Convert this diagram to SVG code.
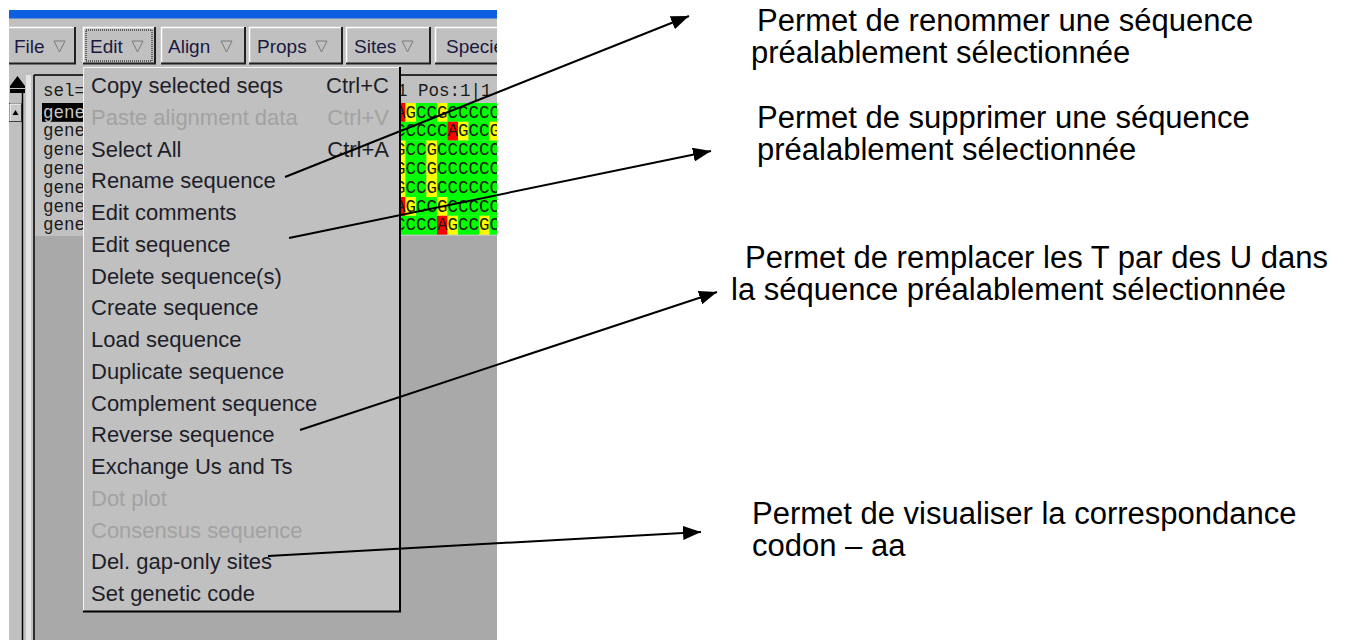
<svg xmlns="http://www.w3.org/2000/svg" width="1350" height="640" viewBox="0 0 1350 640">
<defs>
<style>
.menu{font-family:"Liberation Sans",Arial,sans-serif;font-size:22px;fill:#1e1e2a}
.dis{fill:#a2a2a2}
.btn{font-family:"Liberation Sans",Arial,sans-serif;font-size:19px;fill:#1a1a40}
.mono{font-family:"Liberation Mono","Courier New",monospace;font-size:17.5px;fill:#1a1a1a}
.note{font-family:"Liberation Sans",Arial,sans-serif;font-size:31px;fill:#000}
.g{fill:#00ff00}.y{fill:#ffff00}.r{fill:#ff0000}
.tri{fill:none;stroke:#7a7a7a;stroke-width:1}
.hl{stroke:#ffffff;stroke-width:1.5;fill:none}
.sh{stroke:#202020;stroke-width:2;fill:none}
.arrow{stroke:#000;stroke-width:2;fill:none;marker-end:url(#ah)}
</style>
<clipPath id="shot"><rect x="9" y="10" width="488" height="630"/></clipPath>
<marker id="ah" markerUnits="userSpaceOnUse" markerWidth="20" markerHeight="14" refX="18" refY="7" orient="auto">
<path d="M0,0 L18,7 L0,14 z" fill="#000"/>
</marker>
</defs>
<rect width="1350" height="640" fill="#fff"/>
<g id="screenshot" clip-path="url(#shot)">
<rect x="9" y="10" width="488" height="630" fill="#c0c0c0"/>
<rect x="9" y="10" width="488" height="8.5" fill="#0c5fe0"/>
<g id="btn-file">
<rect x="0" y="27" width="75" height="37" fill="#c0c0c0"/>
<polyline class="hl" points="0,27.5 74,27.5"/>
<polyline class="sh" points="0,63.5 75,63.5 75,27"/>
<text class="btn" x="14" y="53">File</text>
<polygon class="tri" points="54,41 65,41 59.5,52"/>
</g>
<g id="btn-edit">
<polyline class="hl" points="83.5,64 83.5,27.5 155,27.5"/>
<polyline class="sh" points="83,63.5 155,63.5 155,27"/>
<rect x="86" y="30" width="66" height="31" fill="none" stroke="#000" stroke-width="1" stroke-dasharray="1,1"/>
<text class="btn" x="90" y="53">Edit</text>
<polygon class="tri" points="132,41 143,41 137.5,52"/>
</g>
<g id="btn-align">
<polyline class="hl" points="161.5,64 161.5,27.5 245,27.5"/>
<polyline class="sh" points="161,63.5 245,63.5 245,27"/>
<text class="btn" x="168" y="53">Align</text>
<polygon class="tri" points="221,41 232,41 226.5,52"/>
</g>
<g id="btn-props">
<polyline class="hl" points="249.5,64 249.5,27.5 342,27.5"/>
<polyline class="sh" points="249,63.5 342,63.5 342,27"/>
<text class="btn" x="257" y="53">Props</text>
<polygon class="tri" points="316,41 327,41 321.5,52"/>
</g>
<g id="btn-sites">
<polyline class="hl" points="346.5,64 346.5,27.5 430,27.5"/>
<polyline class="sh" points="346,63.5 430,63.5 430,27"/>
<text class="btn" x="354" y="53">Sites</text>
<polygon class="tri" points="402,41 413,41 407.5,52"/>
</g>
<g id="btn-species">
<polyline class="hl" points="435.5,64 435.5,27.5 510,27.5"/>
<polyline class="sh" points="435,63.5 510,63.5"/>
<text class="btn" x="446" y="53">Species</text>
</g>
<g id="left-strip">
<polygon points="10,86 17.5,76 25,86" fill="#000"/>
<rect x="10" y="86" width="15" height="7" fill="#000"/>
<line x1="10" y1="88.5" x2="25" y2="88.5" stroke="#c0c0c0" stroke-width="1"/>
<rect x="9.5" y="103.5" width="12" height="18" fill="#c8c8c8" stroke="#404040" stroke-width="1"/>
<polyline points="10,121 10,104 21,104" stroke="#fff" stroke-width="1" fill="none"/>
<polygon points="12.5,115 15.5,110 18.5,115" fill="#000"/>
<line x1="22.5" y1="93" x2="22.5" y2="640" stroke="#000" stroke-width="1.5"/>
<rect x="26" y="75" width="5" height="565" fill="#e4e4e4"/>
</g>
<g id="panel">
<rect x="34" y="75" width="470" height="570" fill="#a9a9a9"/>
<rect x="35" y="76" width="470" height="160" fill="#c0c0c0"/>
<line x1="34" y1="75" x2="34" y2="640" stroke="#000" stroke-width="1.5"/>
<line x1="34" y1="75" x2="500" y2="75" stroke="#000" stroke-width="1.5"/>
<text class="mono" x="43" y="96">sel=1</text>
<text class="mono" x="397" y="96">1 Pos:1|1</text>
<rect x="42" y="103" width="42" height="18.8" fill="#000"/>
<text class="mono" x="43" y="117.5" style="fill:#c8c8c8">gene</text>
<text class="mono" x="43" y="136.3">gene</text>
<text class="mono" x="43" y="155.1">gene</text>
<text class="mono" x="43" y="173.9">gene</text>
<text class="mono" x="43" y="192.7">gene</text>
<text class="mono" x="43" y="211.5">gene</text>
<text class="mono" x="43" y="230.3">gene</text>
</g>
<g id="grid">
<rect class="r" x="395" y="103" width="10.5" height="18.8"/><rect class="y" x="405.5" y="103" width="10.5" height="18.8"/><rect class="g" x="416" y="103" width="21" height="18.8"/><rect class="y" x="437" y="103" width="10.5" height="18.8"/><rect class="g" x="447.5" y="103" width="60" height="18.8"/>
<rect class="g" x="395" y="121.8" width="52.5" height="18.8"/><rect class="r" x="447.5" y="121.8" width="10.5" height="18.8"/><rect class="y" x="458" y="121.8" width="10.5" height="18.8"/><rect class="g" x="468.5" y="121.8" width="21" height="18.8"/><rect class="y" x="489.5" y="121.8" width="10.5" height="18.8"/>
<rect class="y" x="395" y="140.6" width="10.5" height="56.4"/><rect class="g" x="405.5" y="140.6" width="21" height="56.4"/><rect class="y" x="426.5" y="140.6" width="10.5" height="56.4"/><rect class="g" x="437" y="140.6" width="70" height="56.4"/>
<rect class="r" x="395" y="197" width="10.5" height="18.8"/><rect class="y" x="405.5" y="197" width="10.5" height="18.8"/><rect class="g" x="416" y="197" width="21" height="18.8"/><rect class="y" x="437" y="197" width="10.5" height="18.8"/><rect class="g" x="447.5" y="197" width="60" height="18.8"/>
<rect class="g" x="395" y="215.8" width="42" height="18.8"/><rect class="r" x="437" y="215.8" width="10.5" height="18.8"/><rect class="y" x="447.5" y="215.8" width="10.5" height="18.8"/><rect class="g" x="458" y="215.8" width="21" height="18.8"/><rect class="y" x="479" y="215.8" width="10.5" height="18.8"/><rect class="g" x="489.5" y="215.8" width="12" height="18.8"/>
<text class="mono" x="395" y="117.5" textLength="105" lengthAdjust="spacing">AGCCGCCCCC</text>
<text class="mono" x="395" y="136.3" textLength="105" lengthAdjust="spacing">CCCCCAGCCG</text>
<text class="mono" x="395" y="155.1" textLength="105" lengthAdjust="spacing">GCCGCCCCCC</text>
<text class="mono" x="395" y="173.9" textLength="105" lengthAdjust="spacing">GCCGCCCCCC</text>
<text class="mono" x="395" y="192.7" textLength="105" lengthAdjust="spacing">GCCGCCCCCC</text>
<text class="mono" x="395" y="211.5" textLength="105" lengthAdjust="spacing">AGCCGCCCCC</text>
<text class="mono" x="395" y="230.3" textLength="105" lengthAdjust="spacing">CCCCAGCCGC</text>
</g>
<g id="edit-menu">
<rect x="83" y="67" width="317" height="545" fill="#c0c0c0"/>
<polyline points="83.5,612 83.5,67.5 400,67.5" stroke="#f4f4f4" stroke-width="1" fill="none"/>
<polyline points="83,611.5 400,611.5 400,67" stroke="#000" stroke-width="2" fill="none"/>
<text class="menu" x="91" y="93">Copy selected seqs</text>
<text class="menu" x="389" y="93" text-anchor="end">Ctrl+C</text>
<text class="menu dis" x="91" y="124.75">Paste alignment data</text>
<text class="menu dis" x="389" y="124.75" text-anchor="end">Ctrl+V</text>
<text class="menu" x="91" y="156.5">Select All</text>
<text class="menu" x="389" y="156.5" text-anchor="end">Ctrl+A</text>
<text class="menu" x="91" y="188.25">Rename sequence</text>
<text class="menu" x="91" y="220">Edit comments</text>
<text class="menu" x="91" y="251.75">Edit sequence</text>
<text class="menu" x="91" y="283.5">Delete sequence(s)</text>
<text class="menu" x="91" y="315.25">Create sequence</text>
<text class="menu" x="91" y="347">Load sequence</text>
<text class="menu" x="91" y="378.75">Duplicate sequence</text>
<text class="menu" x="91" y="410.5">Complement sequence</text>
<text class="menu" x="91" y="442.25">Reverse sequence</text>
<text class="menu" x="91" y="474">Exchange Us and Ts</text>
<text class="menu dis" x="91" y="505.75">Dot plot</text>
<text class="menu dis" x="91" y="537.5">Consensus sequence</text>
<text class="menu" x="91" y="569.25">Del. gap-only sites</text>
<text class="menu" x="91" y="601">Set genetic code</text>
</g>
</g>
<g id="note-rename">
<text class="note" x="757" y="31">Permet de renommer une séquence</text>
<text class="note" x="751" y="63">préalablement sélectionnée</text>
</g>
<g id="note-delete">
<text class="note" x="757" y="128">Permet de supprimer une séquence</text>
<text class="note" x="757" y="160">préalablement sélectionnée</text>
</g>
<g id="note-exchange">
<text class="note" x="745" y="268">Permet de remplacer les T par des U dans</text>
<text class="note" x="731" y="300">la séquence préalablement sélectionnée</text>
</g>
<g id="note-code">
<text class="note" x="752" y="524">Permet de visualiser la correspondance</text>
<text class="note" x="752" y="556">codon – aa</text>
</g>
<g id="connectors">
<line class="arrow" x1="285" y1="177" x2="689" y2="16"/>
<line class="arrow" x1="289" y1="238" x2="711" y2="151"/>
<line class="arrow" x1="300" y1="430" x2="717" y2="292"/>
<line class="arrow" x1="268" y1="556" x2="701" y2="532"/>
</g>
</svg>
